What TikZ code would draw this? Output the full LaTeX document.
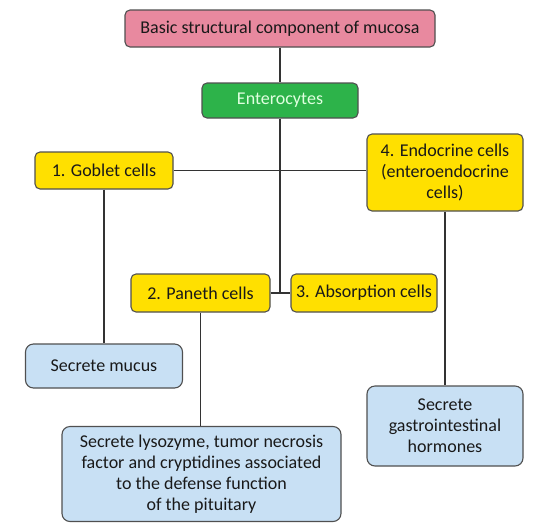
\documentclass[tikz,border=0pt]{standalone}
\usepackage{fontspec}
\setmainfont{Carlito}
\usepackage{xcolor}
\usepackage{tikz}
\usetikzlibrary{positioning}
\definecolor{headpink}{RGB}{232,137,159}
\definecolor{cellgreen}{RGB}{45,179,74}
\definecolor{cellyellow}{RGB}{255,224,0}
\definecolor{secblue}{RGB}{200,224,244}
\definecolor{edgegray}{RGB}{80,80,80}
\tikzset{
    cellbox/.style={
        rectangle,
        rounded corners=5pt,
        draw=edgegray,
        line width=1.1pt,
        text centered,
        text=black!90,
        font=\fontsize{18}{21}\selectfont,
        align=center,
        inner sep=2pt
    },
    link/.style={
        draw=black!80,
        line width=1.2pt
    }
}
\tikzstyle{head} = [cellbox, fill=headpink, minimum width=310pt, minimum height=37pt]
\tikzstyle{group} = [cellbox, fill=cellgreen, text=green!12, minimum width=156pt, minimum height=35pt]
\tikzstyle{cell} = [cellbox, fill=cellyellow, minimum height=38pt]
\tikzstyle{secrete} = [cellbox, fill=secblue, rounded corners=8pt]

\begin{document}
\begin{tikzpicture}[node distance=72pt]
          \useasboundingbox (0pt,0pt) rectangle (541pt,-523pt);
          \node (mucosa) [head] at (280pt,-28.5pt) {Basic structural component of mucosa};
          \node (entero) [group, below of=mucosa] {Enterocytes};
          \node (goblet) [cell, below of=entero, xshift=-176pt, yshift=2pt, minimum width=138pt, minimum height=37pt] {1. Goblet cells};
          \node (endo) [cell, below of=entero, xshift=165pt, minimum width=156pt, minimum height=77pt] {4. Endocrine cells\\(enteroendocrine\\cells)};
          \node (paneth) [cell, below of=goblet, xshift=96.5pt, yshift=-50.5pt, minimum width=139pt] {2. Paneth cells};
          \node (absorb) [cell, below of=endo, xshift=-81pt, yshift=-48.5pt, minimum width=146pt] {3. Absorption cells};
          \node (mucus) [secrete, below of=goblet, yshift=-123.5pt, minimum width=157pt, minimum height=44pt] {Secrete mucus};
          \node (hormone) [secrete, below of=endo, yshift=-181.5pt, minimum width=156pt, minimum height=80pt] {Secrete\\gastrointestinal\\hormones};
          \node (lyso) [secrete, below of=paneth, xshift=1pt, yshift=-109pt, minimum width=279pt, minimum height=95pt] {Secrete lysozyme, tumor necrosis\\factor and cryptidines associated\\to the defense function\\of the pituitary};
          \draw [link] (mucosa) -- (entero);
          \draw [link] (entero) -- (entero |- paneth) coordinate (joint);
          \draw [link] (paneth) -- (absorb);
          \draw [link] (goblet) -- (goblet -| endo.west);
          \draw [link] (goblet) -- (mucus);
          \draw [link] (endo.south -| hormone.north) -- (hormone);
          \draw [link] (paneth) -- (paneth |- lyso.north);
        \end{tikzpicture}
\end{document}
